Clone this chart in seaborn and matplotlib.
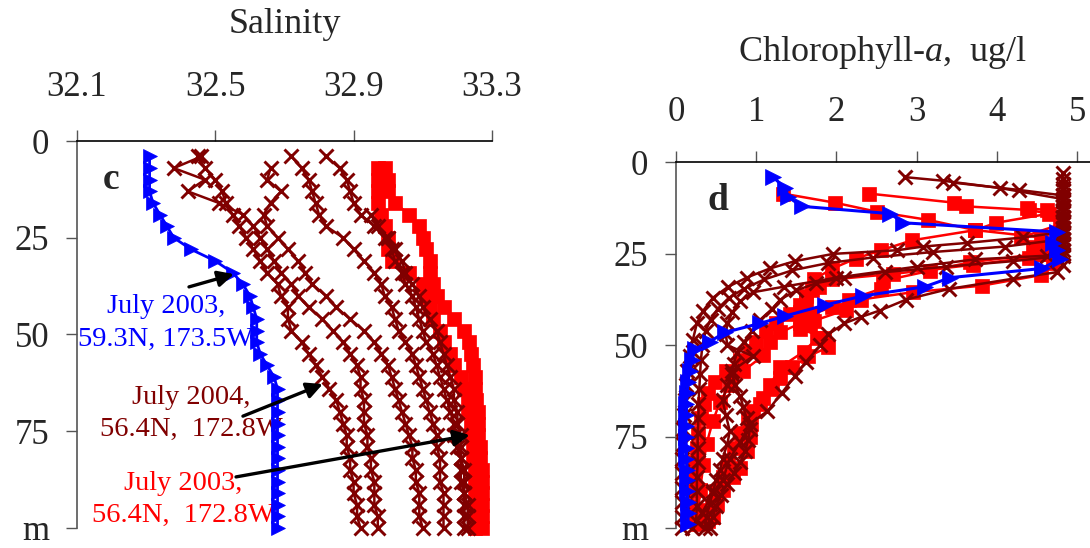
import numpy as np
import pandas as pd
import matplotlib
matplotlib.use("Agg")
import matplotlib.pyplot as plt
import seaborn as sns

nan = np.nan

# =========================================================
# Panel c : salinity profiles (depth in m)
# =========================================================
SAL_DEPTH = [4, 7, 10, 13, 16, 19, 22, 25, 28, 31, 34, 37, 40, 43, 46, 49, 52,
             55, 58, 61, 64, 67, 70, 73, 76, 79, 82, 85, 88, 91, 94, 97, 100]

# July 2003, 59.3N 173.5W
SAL_BLUE = [32.31, 32.31, 32.31, 32.31, 32.32, 32.34, 32.36, 32.38, 32.43, 32.50,
            32.55, 32.58, 32.60, 32.61, 32.62, 32.62, 32.62, 32.63, 32.65, 32.67,
            32.68, 32.68, 32.68, 32.68, 32.68, 32.68, 32.68, 32.68, 32.68, 32.68,
            32.68, 32.68, 32.68]

# July 2004, 56.4N 172.8W (several casts)
SAL_2004_A = [32.45, 32.47, 32.50, 32.52, 32.53, 32.55, 32.57, 32.59, 32.61, 32.63,
              32.65, 32.68, 32.69, 32.71, 32.71, 32.72, 32.75, 32.77, 32.79, 32.81,
              32.83, 32.85, 32.86, 32.87, 32.88, 32.88, 32.89, 32.89, 32.90, 32.90,
              32.91, 32.91, 32.92]
SAL_2004_B = [32.46, 32.38, 32.47, 32.42, 32.51, 32.58, 32.61, 32.63, 32.65, 32.67,
              32.69, 32.72, 32.74, 32.77, 32.81, 32.84, 32.87, 32.89, 32.91, 32.92,
              32.92, 32.93, 32.93, 32.93, 32.94, 32.94, 32.95, 32.95, 32.96, 32.96,
              32.96, 32.97, 32.97]
SAL_2004_C = [nan, 32.66, 32.65, 32.69, 32.66, 32.64, 32.65, 32.68, 32.71, 32.74,
              32.76, 32.78, 32.82, 32.85, 32.89, 32.93, 32.96, 32.98, 33.00, 33.01,
              33.02, 33.03, 33.04, 33.05, 33.06, 33.07, 33.07, 33.08, 33.08, 33.09,
              33.09, 33.09, 33.10]
SAL_2004_D = [32.72, 32.75, 32.77, 32.78, 32.79, 32.80, 32.82, 32.87, 32.90, 32.93,
              32.96, 32.98, 32.99, 33.01, 33.02, 33.03, 33.05, 33.07, 33.08, 33.09,
              33.10, 33.11, 33.12, 33.13, 33.14, 33.14, 33.15, 33.15, 33.15, 33.16,
              33.16, 33.16, 33.16]
SAL_2004_E = [32.82, 32.86, 32.88, 32.89, 32.90, 32.92, 32.96, 32.99, 33.01, 33.02,
              33.04, 33.05, 33.07, 33.08, 33.09, 33.10, 33.11, 33.13, 33.14, 33.15,
              33.16, 33.17, 33.18, 33.19, 33.19, 33.20, 33.21, 33.21, 33.21, 33.22,
              33.22, 33.22, 33.22]
SAL_2004_F = [nan, nan, nan, nan, nan, 32.95, 32.97, 33.00, 33.02, 33.04,
              33.05, 33.07, 33.09, 33.10, 33.12, 33.14, 33.15, 33.16, 33.17, 33.18,
              33.19, 33.19, 33.20, 33.20, 33.21, 33.21, 33.21, 33.22, 33.22, 33.22,
              33.23, 33.23, 33.23]

# July 2003, 56.4N 172.8W
SAL_2003_A = [nan, 32.99, 33.00, 33.00, 33.02, 33.06, 33.09, 33.10, 33.11, 33.12,
              33.12, 33.13, 33.14, 33.16, 33.19, 33.22, 33.235, 33.24, 33.245, 33.25,
              33.25, 33.255, 33.26, 33.26, 33.26, 33.265, 33.265, 33.27, 33.27, 33.27,
              33.27, 33.27, 33.27]
SAL_2003_B = [nan, 32.97, 32.97, 32.97, 32.97, 32.98, 32.99, 33.00, 33.00, 33.01,
              33.06, 33.10, 33.11, 33.12, 33.13, 33.15, 33.16, 33.18, 33.19, 33.21,
              33.22, 33.23, 33.23, 33.24, 33.24, 33.245, 33.245, 33.25, 33.25, 33.25,
              33.25, 33.25, 33.25]

# =========================================================
# Panel d : chlorophyll-a profiles
# =========================================================
CHL_BLUE_DEPTH = [4, 7, 9.5, 12, 14, 16.5, 19, 22, 24, 26.5, 29, 31.5, 34, 36.5, 39,
                  42, 44, 46.5, 49, 51, 54, 57, 60, 63, 66, 69, 72, 75, 78, 81, 84,
                  87, 90, 93, 96, 99]
CHL_BLUE = [1.21, 1.36, 1.40, 1.57, 2.67, 2.83, 4.75, 4.70, 4.75, 4.78, 4.56, 3.42,
            3.10, 2.33, 1.86, 1.36, 1.05, 0.61, 0.42, 0.24, 0.20, 0.17, 0.15, 0.14,
            0.13, 0.13, 0.12, 0.12, 0.13, 0.13, 0.14, 0.14, 0.14, 0.15, 0.15, 0.15]

CHL_2004_A_DEPTH = [4, 5, 7, 10, 13, 16, 19, 20.5, 22, 23, 24, 25, 27, 29, 31.5, 34,
                    37, 40.5, 44, 48.5, 53, 57, 61, 65, 69, 73, 77, 81, 85, 89, 93,
                    97, 100]
CHL_2004_A = [2.85, 3.33, 4.04, 4.82, 4.82, 4.82, 4.82, 4.33, 3.63, 3.08, 2.76, 1.96,
              1.48, 1.17, 0.88, 0.65, 0.46, 0.34, 0.26, 0.21, 0.17, 0.14, 0.12, 0.11,
              0.10, 0.09, 0.09, 0.08, 0.08, 0.08, 0.08, 0.08, 0.08]
CHL_2004_B_DEPTH = [5.5, 7.5, 9, 12, 15, 18, 21, 23, 24.5, 26, 27.5, 29.5, 32, 34.5,
                    37, 40, 43, 46, 50, 54, 58, 62, 66, 70, 74, 78, 82, 86, 90, 94, 98]
CHL_2004_B = [3.45, 4.27, 4.82, 4.82, 4.82, 4.82, 4.82, 4.10, 3.20, 2.45, 1.90, 1.45,
              1.10, 0.85, 0.66, 0.52, 0.43, 0.37, 0.33, 0.31, 0.30, 0.29, 0.28, 0.28,
              0.27, 0.27, 0.27, 0.26, 0.26, 0.26, 0.25]
CHL_2004_C_DEPTH = [3, 6, 9, 12, 15, 18, 21, 24, 25.5, 26.5, 28.5, 31.5, 34, 35.5, 38,
                    41, 44, 47, 50, 53, 57, 61, 65, 69, 73.5, 77, 81, 84, 87, 90, 93.5,
                    97, 100]
CHL_2004_C = [4.82, 4.82, 4.82, 4.82, 4.82, 4.82, 4.82, 4.82, 4.62, 3.73, 3.00, 2.00,
              1.34, 0.96, 0.80, 0.70, 0.64, 0.62, 0.64, 0.96, 0.70, 0.64, 0.58, 0.62,
              0.67, 0.64, 0.58, 0.55, 0.50, 0.46, 0.42, 0.38, 0.36]
CHL_2004_D_DEPTH = [4.5, 7.5, 10.5, 13.5, 16.5, 19.5, 22.5, 25.5, 27, 28.5, 30, 31.5,
                    33, 35, 37.5, 40, 43, 46, 49, 52, 55, 58, 61, 64, 67, 70, 73, 76,
                    79, 82, 85, 88, 91, 94, 97, 100]
CHL_2004_D = [4.82, 4.82, 4.82, 4.82, 4.82, 4.82, 4.82, 4.82, 4.20, 3.37, 2.60, 2.10,
              1.75, 1.50, 1.30, 1.20, 1.05, 0.95, 0.85, 0.76, 0.72, 0.70, 0.74, 0.80,
              0.84, 0.88, 0.92, 0.90, 0.86, 0.80, 0.72, 0.64, 0.56, 0.50, 0.46, 0.42]
CHL_2004_E_DEPTH = [7, 10, 13, 16, 19, 22, 25, 28, 30, 31.8, 34.6, 37.5, 40.5, 42.3,
                    44, 47, 50, 54.5, 58.5, 63, 68, 71.5, 76.5, 81, 87, 90.5, 96, 100]
CHL_2004_E = [4.82, 4.82, 4.82, 4.82, 4.82, 4.82, 4.82, 4.82, 4.75, 4.20, 3.40, 2.87,
              2.54, 2.30, 2.10, 1.90, 1.80, 1.62, 1.48, 1.32, 1.14, 0.92, 0.80, 0.67,
              0.58, 0.46, 0.32, 0.20]

CHL_2003_A_DEPTH = [8.5, 11, 13.5, 15.7, 18.5, 20.5, 23, 25, 27.5, 30.8, 33.7, 35.5,
                    37.5, 39.5, 41.5, 44, 46.5, 49, 52.8, 57, 61, 65.4, 70.7, 77, 82.7,
                    89.7, 95, 99]
CHL_2003_A = [1.33, 1.98, 2.51, 3.14, 3.73, 4.55, 4.62, 4.52, 4.70, 4.55, 3.81, 2.95,
              2.30, 1.95, 1.70, 1.55, 1.30, 1.17, 1.09, 0.84, 0.67, 0.55, 0.46, 0.38,
              0.34, 0.30, 0.28, 0.27]
CHL_2003_B_DEPTH = [8.5, 11, 12, 13, 14, 16.5, 18.5, 21.3, 24, 26.3, 29, 32, 35, 38,
                    41, 44.5, 48, 51.8, 56, 61, 64.5, 68, 71.5, 75, 79, 83.5, 86, 89.7,
                    93.5, 97]
CHL_2003_B = [2.40, 3.47, 3.61, 4.40, 4.65, 3.99, 3.73, 2.94, 2.56, 2.24, 1.95, 1.72,
              1.70, 1.62, 1.55, 1.67, 1.76, 1.59, 1.30, 1.17, 1.09, 0.96, 0.94, 0.92,
              0.88, 0.80, 0.71, 0.59, 0.51, 0.46]
CHL_2003_C_DEPTH = [12.5, 13, 17, 20.5, 23, 25, 27.3, 29.6, 32.4, 34.6, 37.5, 40.3,
                    43.3, 45.5, 48, 50.5, 53, 56, 59, 62, 66, 70, 74, 78, 82, 86, 90,
                    94, 98]
CHL_2003_C = [4.37, 4.62, 4.78, 4.30, 4.45, 4.52, 3.67, 3.17, 2.58, 2.55, 2.16, 2.12,
              1.72, 1.55, 1.85, 1.90, 1.65, 1.45, 1.30, 1.20, 1.05, 0.90, 0.80, 0.72,
              0.65, 0.58, 0.50, 0.45, 0.40]
CHL_2003_D_DEPTH = [26, 28, 30.5, 32, 34, 36.5, 39, 41.5, 44, 46, 49, 51.5, 54, 57,
                    60, 63, 66, 70, 74, 78, 82, 86, 90, 94, 98]
CHL_2003_D = [4.40, 3.70, 2.70, 1.95, 1.78, 1.62, 1.55, 1.42, 1.25, 1.12, 1.00, 0.92,
              0.80, 0.62, 0.48, 0.40, 0.35, 0.31, 0.28, 0.26, 0.24, 0.22, 0.21, 0.20,
              0.19]

DEPTH_TICKS = [0, 25, 50, 75, 100]
DEPTH_LABELS = ["0", "25", "50", "75", "m"]
SAL_TICKS = [32.1, 32.5, 32.9, 33.3]
CHL_TICKS = [0, 1, 2, 3, 4, 5]

BLUE = "#0000FF"
RED = "#FF0000"
DARKRED = "#800000"

sns.set_style("white")
plt.rcParams["font.family"] = ["Liberation Serif", "DejaVu Serif"]
plt.rcParams["mathtext.fontset"] = "custom"
plt.rcParams["mathtext.rm"] = "Liberation Serif"
plt.rcParams["mathtext.it"] = "Liberation Serif:italic"


def profile(ax, depth, values, color, marker, ms, mew=1.0, lw=1.5, z=2):
    df = pd.DataFrame({"depth": depth, "value": values}).dropna()
    sns.lineplot(data=df, x="value", y="depth", orient="y", sort=False,
                 estimator=None, color=color, marker=marker, markersize=ms,
                 markeredgewidth=mew, markeredgecolor=color, linewidth=lw,
                 clip_on=False, zorder=z, ax=ax)


def style_axis(ax, xticks, xlabels, xpad, ypad, xlabel, labelpad):
    ax.set_ylim(100, 0)
    ax.set_yticks(DEPTH_TICKS)
    ax.set_yticklabels(DEPTH_LABELS)
    ax.set_xticks(xticks)
    ax.set_xticklabels(xlabels)
    ax.xaxis.tick_top()
    ax.xaxis.set_label_position("top")
    ax.set_xlabel(xlabel, fontsize=26, labelpad=labelpad)
    ax.set_ylabel("")
    for side in ["bottom", "right"]:
        ax.spines[side].set_visible(False)
    ax.spines["top"].set_color("black")
    ax.spines["left"].set_color("#555555")
    ax.spines["top"].set_linewidth(1.2)
    ax.spines["left"].set_linewidth(1.2)
    ax.tick_params(axis="x", direction="out", length=8, width=1.0,
                   color="#555555", labelsize=25, pad=xpad, top=True, bottom=False)
    ax.tick_params(axis="y", direction="out", length=8, width=1.0,
                   color="#555555", labelsize=25, pad=ypad, left=True)
    ax.grid(False)


fig = plt.figure(figsize=(10.9, 5.48), dpi=100)
ax_s = fig.add_axes([0.0706, 0.0365, 0.3807, 0.7062])
ax_c = fig.add_axes([0.6202, 0.0365, 0.3798, 0.667])

# ---------------- panel c ----------------
for vals in [SAL_2003_A, SAL_2003_B]:
    profile(ax_s, SAL_DEPTH, vals, RED, "s", 9.5, mew=0.5, lw=1.8, z=2)
for vals in [SAL_2004_A, SAL_2004_B, SAL_2004_C, SAL_2004_D, SAL_2004_E, SAL_2004_F]:
    profile(ax_s, SAL_DEPTH, vals, DARKRED, "x", 9.5, mew=2.1, lw=1.8, z=3)
profile(ax_s, SAL_DEPTH, SAL_BLUE, BLUE, ">", 10.5, mew=0.5, lw=2, z=4)

ax_s.set_xlim(32.1, 33.3)
style_axis(ax_s, SAL_TICKS, ["32.1", "32.5", "32.9", "33.3"], 19, 12,
           "Salinity", 27)

ax_s.text(32.198, 10, "c", fontsize=27, fontweight="bold", ha="center",
          va="center")

ax_s.text(32.357, 47.0, "July 2003,\n59.3N, 173.5W", color=BLUE, fontsize=20.5,
          ha="center", va="center", linespacing=1.4)
ax_s.text(32.43, 70.4, "July 2004,\n56.4N,  172.8W", color=DARKRED, fontsize=20.5,
          ha="center", va="center", linespacing=1.4)
ax_s.text(32.407, 92.6, "July 2003,\n56.4N,  172.8W", color=RED, fontsize=20.5,
          ha="center", va="center", linespacing=1.4)

arrow = dict(arrowstyle="-|>", color="black", lw=2.4, mutation_scale=24,
             shrinkA=0, shrinkB=0)
ax_s.annotate("", xy=(32.554, 34.4), xytext=(32.424, 37.7), arrowprops=arrow, zorder=6)
ax_s.annotate("", xy=(32.811, 62.8), xytext=(32.58, 71.1), arrowprops=arrow, zorder=6)
ax_s.annotate("", xy=(33.236, 76.0), xytext=(32.56, 86.8), arrowprops=arrow, zorder=6)

# ---------------- panel d ----------------
for d, v in [(CHL_2003_A_DEPTH, CHL_2003_A), (CHL_2003_B_DEPTH, CHL_2003_B),
             (CHL_2003_C_DEPTH, CHL_2003_C), (CHL_2003_D_DEPTH, CHL_2003_D)]:
    profile(ax_c, d, v, RED, "s", 9.5, mew=0.5, lw=1.8, z=2)
for d, v in [(CHL_2004_A_DEPTH, CHL_2004_A), (CHL_2004_B_DEPTH, CHL_2004_B),
             (CHL_2004_C_DEPTH, CHL_2004_C), (CHL_2004_D_DEPTH, CHL_2004_D),
             (CHL_2004_E_DEPTH, CHL_2004_E)]:
    profile(ax_c, d, v, DARKRED, "x", 9.5, mew=2.1, lw=1.8, z=3)
profile(ax_c, CHL_BLUE_DEPTH, CHL_BLUE, BLUE, ">", 11.5, mew=0.5, lw=2.2, z=4)

ax_c.set_xlim(0, 5.16)
style_axis(ax_c, CHL_TICKS, [str(t) for t in CHL_TICKS], 16, 12,
           "Chlorophyll-$a$,  ug/l", 25)
ax_c.text(0.52, 10.5, "d", fontsize=27, fontweight="bold", ha="center",
          va="center")

fig.savefig("out.png", dpi=100)
